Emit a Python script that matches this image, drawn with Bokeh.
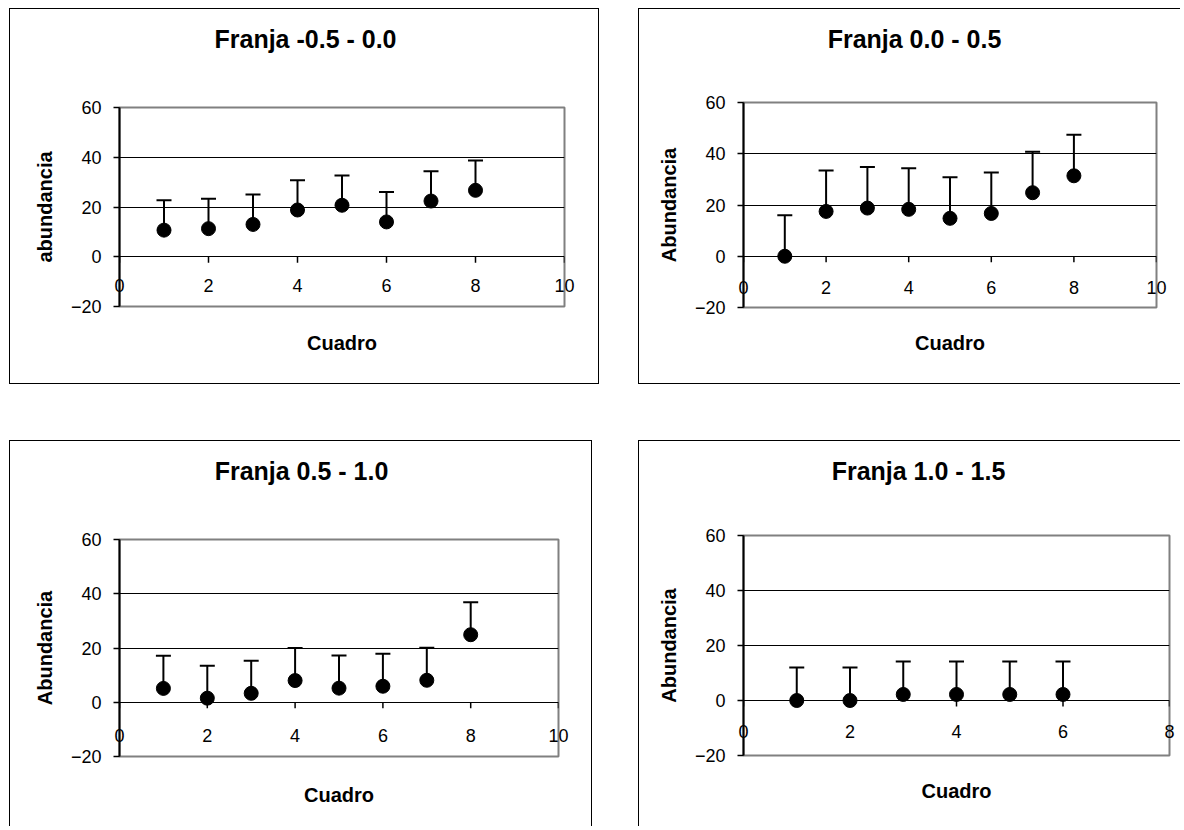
import math
from bokeh.plotting import figure
from bokeh.models import (Range1d, ColumnDataSource, Whisker, TeeHead, Spacer, FixedTicker,
                          LinearAxis, Label)
from bokeh.layouts import row, column
from bokeh.embed import file_html
from bokeh.resources import INLINE

# ---------------- data ----------------
titles = ["Franja -0.5 - 0.0", "Franja 0.0 - 0.5", "Franja 0.5 - 1.0", "Franja 1.0 - 1.5"]
y_labels = ["abundancia", "Abundancia", "Abundancia", "Abundancia"]
x_label = "Cuadro"

cuadro_a = [1, 2, 3, 4, 5, 6, 7, 8]
abund_a = [10.7, 11.3, 13.0, 18.8, 20.7, 14.0, 22.4, 26.7]
err_a = [12, 12, 12, 12, 12, 12, 12, 12]

cuadro_b = [1, 2, 3, 4, 5, 6, 7, 8]
abund_b = [0.0, 17.5, 18.8, 18.3, 14.8, 16.7, 24.8, 31.4]
err_b = [16, 16, 16, 16, 16, 16, 16, 16]

cuadro_c = [1, 2, 3, 4, 5, 6, 7, 8]
abund_c = [5.1, 1.5, 3.3, 8.0, 5.2, 5.9, 8.1, 24.9]
err_c = [12, 12, 12, 12, 12, 12, 12, 12]

cuadro_d = [1, 2, 3, 4, 5, 6]
abund_d = [0.0, 0.0, 2.2, 2.2, 2.2, 2.2]
err_d = [12, 12, 12, 12, 12, 12]

y_ticks = [-20, 0, 20, 40, 60]
x_ticks_10 = [0, 2, 4, 6, 8, 10]
x_ticks_8 = [0, 2, 4, 6, 8]
x_cross = 0  # value where the x axis crosses the y axis

FONT = "Liberation Sans"
B = "1px solid black"
TITLE_H = 60


def make_title(title, W, cx, styles):
    """Strip on top of a chart that carries the chart title."""
    t = figure(width=W, height=TITLE_H, x_range=Range1d(0, W), y_range=Range1d(0, TITLE_H),
               output_backend="svg", toolbar_location=None,
               x_axis_location=None, y_axis_location=None,
               min_border_left=0, min_border_right=0, min_border_top=0, min_border_bottom=0,
               background_fill_color="white", border_fill_color="white",
               outline_line_color=None)
    t.xgrid.grid_line_color = None
    t.ygrid.grid_line_color = None
    t.styles = styles
    t.add_layout(Label(x=cx, y=31, x_units="screen", y_units="screen", text=title,
                       text_align="center", text_baseline="middle",
                       text_font=FONT, text_font_size="25px", text_font_style="bold",
                       text_color="black"))
    return t


def make_panel(ylabel, xs, ys, errs, xmax, xticks, W, H, lb, rb, tb, bb,
               xlab_label_standoff, xlab_standoff, styles):
    p = figure(width=W, height=H, x_range=Range1d(0, xmax), y_range=Range1d(-20, 60),
               output_backend="svg", toolbar_location=None, x_axis_location=None,
               min_border_left=lb, min_border_right=rb, min_border_top=tb, min_border_bottom=bb,
               background_fill_color="white", border_fill_color="white",
               outline_line_color="#808080", outline_line_width=2)
    p.styles = styles

    # bottom axis: tick labels (drawn up inside the frame) and axis title
    xa = LinearAxis(ticker=FixedTicker(ticks=xticks),
                    minor_tick_line_color=None, major_tick_line_color=None,
                    major_tick_in=0, major_tick_out=0, axis_line_color=None,
                    major_label_text_font=FONT, major_label_text_font_size="18px",
                    major_label_text_color="black",
                    major_label_standoff=xlab_label_standoff,
                    axis_label=x_label, axis_label_text_font=FONT,
                    axis_label_text_font_size="20px", axis_label_text_font_style="bold",
                    axis_label_text_color="black", axis_label_standoff=xlab_standoff)
    p.add_layout(xa, "below")

    # y axis
    ya = p.yaxis[0]
    ya.ticker = FixedTicker(ticks=y_ticks)
    ya.minor_tick_line_color = None
    ya.major_tick_in = 0
    ya.major_tick_out = 6
    ya.major_tick_line_color = "black"
    ya.major_tick_line_width = 1.5
    ya.axis_line_color = "black"
    ya.axis_line_width = 2
    ya.major_label_text_font = FONT
    ya.major_label_text_font_size = "18px"
    ya.major_label_text_color = "black"
    ya.major_label_standoff = 12
    ya.axis_label = ylabel
    ya.axis_label_text_font = FONT
    ya.axis_label_text_font_size = "20px"
    ya.axis_label_text_font_style = "bold"
    ya.axis_label_text_color = "black"
    ya.axis_label_standoff = 12

    p.xgrid.grid_line_color = None
    p.ygrid.ticker = FixedTicker(ticks=y_ticks)
    p.ygrid.grid_line_color = "black"
    p.ygrid.grid_line_width = 1

    # x axis tick marks hanging down from the y = 0 line
    p.ray(x=xticks, y=[x_cross] * len(xticks), length=6, length_units="screen",
          angle=-math.pi / 2, line_color="black", line_width=1.5)

    src = ColumnDataSource(dict(x=xs, y=ys, upper=[v + e for v, e in zip(ys, errs)]))
    w = Whisker(base="x", lower="y", upper="upper", source=src, dimension="height",
                line_color="black", line_width=2,
                upper_head=TeeHead(size=15, line_color="black", line_width=2),
                lower_head=None)
    p.add_layout(w)
    p.scatter("x", "y", source=src, size=14, color="black")
    return p


# panel 1 (top left)
t1 = make_title(titles[0], 590, 186, {"border-top": B, "border-left": B, "border-right": B})
p1 = make_panel(y_labels[0], cuadro_a, abund_a, err_a, 10, x_ticks_10,
                590, 316, 109, 36, 39, 78, -28, 37,
                {"border-left": B, "border-right": B, "border-bottom": B})
# panel 2 (top right)
t2 = make_title(titles[1], 542, 171, {"border-top": B, "border-left": B})
p2 = make_panel(y_labels[1], cuadro_b, abund_b, err_b, 10, x_ticks_10,
                542, 316, 104, 25, 34, 77, -27, 35,
                {"border-left": B, "border-bottom": B})
# panel 3 (bottom left)
t3 = make_title(titles[2], 583, 182, {"border-top": B, "border-left": B, "border-right": B})
p3 = make_panel(y_labels[2], cuadro_c, abund_c, err_c, 10, x_ticks_10,
                583, 326, 109, 35, 39, 70, -28, 39,
                {"border-left": B, "border-right": B})
# panel 4 (bottom right)
t4 = make_title(titles[3], 542, 175, {"border-top": B, "border-left": B})
p4 = make_panel(y_labels[3], cuadro_d, abund_d, err_d, 8, x_ticks_8,
                542, 326, 104, 12, 35, 71, -31, 39,
                {"border-left": B})

layout = column(
    Spacer(height=8),
    row(Spacer(width=9), column(t1, p1), Spacer(width=39), column(t2, p2)),
    Spacer(height=56),
    row(Spacer(width=9), column(t3, p3), Spacer(width=46), column(t4, p4)),
)

open("out.html", "w").write(file_html(layout, INLINE))
